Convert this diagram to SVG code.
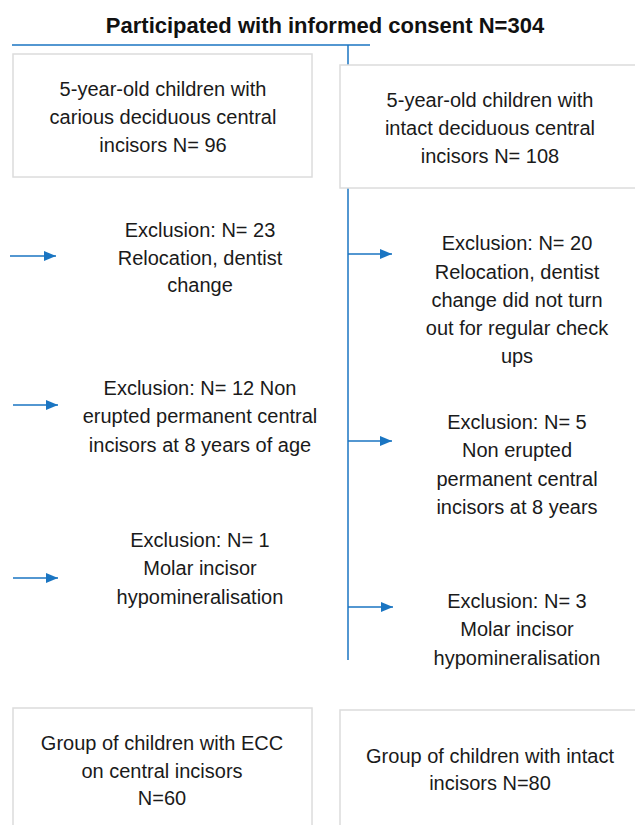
<svg xmlns="http://www.w3.org/2000/svg" width="635" height="825" viewBox="0 0 635 825">
<style>
.box{fill:#fff;stroke:#dcdcdc;stroke-width:1.5}
.t{font-family:"Liberation Sans",Arial,sans-serif;font-size:20px;fill:#1a1a1a;text-anchor:middle}
.title{font-family:"Liberation Sans",Arial,sans-serif;font-size:22px;font-weight:bold;fill:#111;text-anchor:middle}
.ln{stroke:#1a75c2;stroke-width:1.5;fill:none}
</style>
<defs>
<marker id="ah" markerWidth="12" markerHeight="10" refX="12" refY="5" orient="auto" markerUnits="userSpaceOnUse">
<path d="M0,0 L12,5 L0,10 z" fill="#1a75c2"/>
</marker>
</defs>
<rect width="635" height="825" fill="#fff"/>
<g id="title">
<text class="title" x="325" y="33">Participated with informed consent N=304</text>
</g>
<g id="connectors">
<line class="ln" x1="12" y1="45" x2="370" y2="45"/>
<line class="ln" x1="348" y1="45" x2="348" y2="65"/>
<line class="ln" x1="348" y1="188" x2="348" y2="660"/>
<line class="ln" x1="10" y1="256" x2="56" y2="256" marker-end="url(#ah)"/>
<line class="ln" x1="13" y1="405" x2="58" y2="405" marker-end="url(#ah)"/>
<line class="ln" x1="13" y1="578" x2="58" y2="578" marker-end="url(#ah)"/>
<line class="ln" x1="348" y1="254" x2="392" y2="254" marker-end="url(#ah)"/>
<line class="ln" x1="348" y1="441" x2="392" y2="441" marker-end="url(#ah)"/>
<line class="ln" x1="348" y1="607" x2="393" y2="607" marker-end="url(#ah)"/>
</g>
<g id="carious">
<rect class="box" x="13" y="54" width="299" height="123"/>
<text class="t" x="163" y="96">5-year-old children with</text>
<text class="t" x="163" y="124">carious deciduous central</text>
<text class="t" x="163" y="152">incisors N= 96</text>
</g>
<g id="intact">
<rect class="box" x="340" y="65" width="300" height="123"/>
<text class="t" x="490" y="107">5-year-old children with</text>
<text class="t" x="490" y="135">intact deciduous central</text>
<text class="t" x="490" y="163">incisors N= 108</text>
</g>
<g id="excl-left-1">
<text class="t" x="200" y="237">Exclusion: N= 23</text>
<text class="t" x="200" y="265">Relocation, dentist</text>
<text class="t" x="200" y="292">change</text>
</g>
<g id="excl-left-2">
<text class="t" x="200" y="395">Exclusion: N= 12 Non</text>
<text class="t" x="200" y="423">erupted permanent central</text>
<text class="t" x="200" y="452">incisors at 8 years of age</text>
</g>
<g id="excl-left-3">
<text class="t" x="200" y="547">Exclusion: N= 1</text>
<text class="t" x="200" y="575">Molar incisor</text>
<text class="t" x="200" y="604">hypomineralisation</text>
</g>
<g id="excl-right-1">
<text class="t" x="517" y="250">Exclusion: N= 20</text>
<text class="t" x="517" y="279">Relocation, dentist</text>
<text class="t" x="517" y="307">change did not turn</text>
<text class="t" x="517" y="335">out for regular check</text>
<text class="t" x="517" y="363">ups</text>
</g>
<g id="excl-right-2">
<text class="t" x="517" y="429">Exclusion: N= 5</text>
<text class="t" x="517" y="457">Non erupted</text>
<text class="t" x="517" y="486">permanent central</text>
<text class="t" x="517" y="514">incisors at 8 years</text>
</g>
<g id="excl-right-3">
<text class="t" x="517" y="608">Exclusion: N= 3</text>
<text class="t" x="517" y="636">Molar incisor</text>
<text class="t" x="517" y="665">hypomineralisation</text>
</g>
<g id="ecc-group">
<rect class="box" x="13" y="708" width="299" height="130"/>
<text class="t" x="162" y="750">Group of children with ECC</text>
<text class="t" x="162" y="778">on central incisors</text>
<text class="t" x="162" y="805">N=60</text>
</g>
<g id="intact-group">
<rect class="box" x="340" y="710" width="300" height="130"/>
<text class="t" x="490" y="763">Group of children with intact</text>
<text class="t" x="490" y="790">incisors N=80</text>
</g>
</svg>
